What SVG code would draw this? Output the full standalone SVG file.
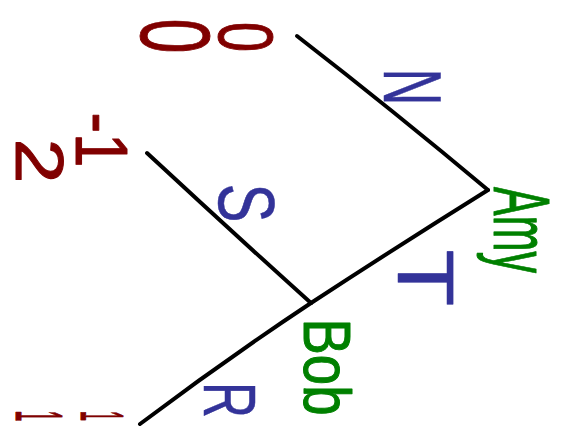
<svg xmlns="http://www.w3.org/2000/svg" width="565" height="444" viewBox="0 0 565 444">
<style>
.e{fill:none;stroke:#000;stroke-width:4;stroke-linecap:round;stroke-linejoin:round}
text{font-family:"Liberation Sans",Arial,sans-serif;text-anchor:middle;stroke-linejoin:round}
.p{fill:#800000;stroke:#800000;stroke-width:1}
.l{fill:#333399;stroke:#333399;stroke-width:0.5}
.n{fill:#008000;stroke:#008000;stroke-width:1}
</style>
<rect width="565" height="444" fill="#fff"/>
<g id="connectors">
<path class="e" d="M297,36 Q395,112 488,190"/>
<path class="e" d="M488,190 Q395,248 311,303"/>
<path class="e" d="M311,303 Q225,360 140,424"/>
<path class="e" d="M147,153 Q230,230 311,303"/>
</g>
<g id="amy">
<text class="n" font-size="80" textLength="86" lengthAdjust="spacingAndGlyphs" transform="translate(494,230) rotate(90)">Amy</text>
</g>
<g id="bob">
<text class="n" font-size="66" textLength="97" lengthAdjust="spacingAndGlyphs" transform="translate(304,367) rotate(90)">Bob</text>
</g>
<g id="leaf-n">
<text class="p" font-size="98" textLength="35" lengthAdjust="spacingAndGlyphs" transform="translate(141,36) rotate(90)">0</text>
<text class="p" font-size="78" textLength="30" lengthAdjust="spacingAndGlyphs" transform="translate(219,37) rotate(90)">0</text>
</g>
<g id="leaf-s">
<text class="p" font-size="75" textLength="55" lengthAdjust="spacingAndGlyphs" transform="translate(76,140) rotate(90)">-1</text>
<text class="p" font-size="68" textLength="45" lengthAdjust="spacingAndGlyphs" transform="translate(16,161) rotate(90)">2</text>
</g>
<g id="leaf-r">
<text class="p" font-size="66" transform="translate(16,416) rotate(90) scale(0.3,1)">1</text>
<text class="p" font-size="62" transform="translate(81,416) rotate(90) scale(0.3,1)">1</text>
</g>
<g id="labels">
<text class="l" font-size="82" textLength="37" lengthAdjust="spacingAndGlyphs" transform="translate(384,87) rotate(90)">N</text>
<text class="l" font-size="80" textLength="39" lengthAdjust="spacingAndGlyphs" transform="translate(219,203) rotate(90)">S</text>
<text class="l" font-size="79" textLength="57" lengthAdjust="spacingAndGlyphs" transform="translate(398,278) rotate(90)">T</text>
<text class="l" font-size="75" textLength="36" lengthAdjust="spacingAndGlyphs" transform="translate(204,400) rotate(90)">R</text>
</g>
</svg>
